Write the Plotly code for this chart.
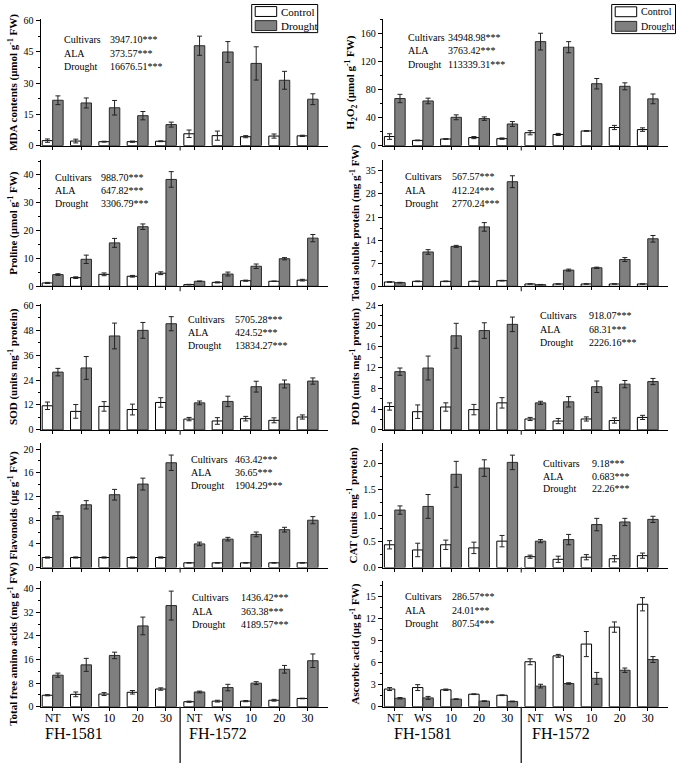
import plotly.graph_objects as go

W, H = 677, 769
FONT = "Liberation Serif, Times New Roman, serif"

# ---------------- data ----------------
groups = ["NT", "WS", "10", "20", "30", "NT", "WS", "10", "20", "30"]
cultivars = ["FH-1581", "FH-1572"]
series = ["Control", "Drought"]
series_fill = ["white", "#7f7f7f"]
series_line = ["black", "#2b2b2b"]

mda_ctrl = [2.4, 2.2, 1.9, 1.9, 2.1, 5.7, 4.8, 4.3, 4.6, 4.7]
mda_ctrl_err = [0.8, 0.9, 0.2, 0.3, 0.2, 1.8, 2.2, 0.5, 1.0, 0.3]
mda_drt = [21.8, 20.5, 18.2, 14.4, 10.1, 48.0, 45.0, 39.5, 31.4, 22.3]
mda_drt_err = [2.1, 2.4, 3.5, 2.0, 1.2, 4.6, 5.0, 8.0, 4.3, 2.6]

h2o2_ctrl = [13.0, 7.5, 9.5, 11.5, 10.0, 18.5, 16.0, 21.0, 26.0, 23.0]
h2o2_ctrl_err = [4.0, 0.5, 0.5, 1.5, 1.0, 3.0, 1.5, 0.5, 3.0, 2.5]
h2o2_drt = [67.5, 64.0, 40.6, 38.7, 31.0, 149.0, 141.0, 88.7, 85.0, 67.0]
h2o2_drt_err = [6.0, 4.0, 3.5, 2.5, 3.5, 12.0, 8.0, 7.5, 5.0, 7.0]

pro_ctrl = [1.2, 3.1, 4.3, 3.6, 4.7, 0.6, 1.4, 2.0, 1.8, 2.2]
pro_ctrl_err = [0.2, 0.3, 0.5, 0.3, 0.5, 0.1, 0.2, 0.2, 0.1, 0.3]
pro_drt = [4.2, 9.7, 15.6, 21.4, 38.4, 1.8, 4.4, 7.2, 9.9, 17.3]
pro_drt_err = [0.3, 1.5, 1.6, 1.0, 2.8, 0.1, 0.7, 0.8, 0.4, 1.3]

tsp_ctrl = [1.3, 1.5, 1.5, 1.5, 1.7, 0.7, 0.7, 0.7, 0.7, 0.7]
tsp_ctrl_err = [0.1, 0.1, 0.1, 0.1, 0.1, 0.05, 0.05, 0.05, 0.05, 0.05]
tsp_drt = [1.1, 10.4, 12.1, 18.0, 31.7, 0.5, 4.9, 5.6, 8.1, 14.4]
tsp_drt_err = [0.1, 0.7, 0.3, 1.3, 1.8, 0.05, 0.3, 0.2, 0.6, 1.0]

sod_ctrl = [11.6, 8.9, 11.3, 9.8, 13.2, 5.2, 4.3, 5.4, 4.6, 6.2]
sod_ctrl_err = [1.8, 3.3, 2.3, 2.6, 2.3, 0.8, 1.6, 1.1, 1.2, 1.0]
sod_drt = [27.8, 29.8, 45.2, 47.9, 51.1, 13.0, 13.7, 20.8, 22.1, 23.5]
sod_drt_err = [1.8, 5.5, 6.2, 3.8, 3.4, 0.9, 2.5, 2.6, 1.9, 1.5]

pod_ctrl = [4.5, 3.5, 4.4, 3.9, 5.2, 2.1, 1.7, 2.1, 1.8, 2.4]
pod_ctrl_err = [0.7, 1.3, 0.8, 1.0, 1.0, 0.3, 0.5, 0.4, 0.5, 0.4]
pod_drt = [11.2, 11.9, 18.1, 19.1, 20.3, 5.2, 5.4, 8.3, 8.8, 9.3]
pod_drt_err = [0.7, 2.3, 2.4, 1.5, 1.4, 0.3, 1.0, 1.1, 0.7, 0.6]

flv_ctrl = [1.7, 1.7, 1.7, 1.7, 1.7, 0.8, 0.8, 0.8, 0.8, 0.8]
flv_ctrl_err = [0.1, 0.1, 0.1, 0.1, 0.1, 0.05, 0.05, 0.05, 0.05, 0.05]
flv_drt = [8.8, 10.6, 12.3, 14.1, 17.7, 4.0, 4.8, 5.6, 6.4, 8.0]
flv_drt_err = [0.6, 0.7, 0.9, 1.0, 1.3, 0.3, 0.3, 0.4, 0.4, 0.6]

cat_ctrl = [0.44, 0.34, 0.44, 0.38, 0.51, 0.21, 0.16, 0.20, 0.17, 0.23]
cat_ctrl_err = [0.08, 0.13, 0.09, 0.11, 0.11, 0.03, 0.06, 0.05, 0.06, 0.05]
cat_drt = [1.11, 1.18, 1.80, 1.92, 2.03, 0.51, 0.54, 0.83, 0.88, 0.93]
cat_drt_err = [0.08, 0.23, 0.25, 0.16, 0.14, 0.03, 0.10, 0.12, 0.07, 0.06]

tfa_ctrl = [3.9, 4.2, 4.3, 4.9, 6.0, 1.7, 1.9, 1.9, 2.2, 2.8]
tfa_ctrl_err = [0.2, 0.8, 0.5, 0.6, 0.4, 0.2, 0.3, 0.2, 0.3, 0.1]
tfa_drt = [10.7, 14.2, 17.4, 27.4, 34.3, 5.0, 6.5, 8.0, 12.7, 15.6]
tfa_drt_err = [0.7, 2.2, 1.1, 3.0, 4.9, 0.3, 1.1, 0.5, 1.3, 2.3]

asa_ctrl = [2.4, 2.6, 2.3, 1.7, 1.56, 6.1, 6.9, 8.5, 10.8, 13.9]
asa_ctrl_err = [0.2, 0.4, 0.1, 0.05, 0.05, 0.4, 0.2, 1.7, 0.7, 0.9]
asa_drt = [1.15, 1.2, 1.03, 0.76, 0.72, 2.8, 3.15, 3.85, 4.95, 6.4]
asa_drt_err = [0.1, 0.2, 0.05, 0.05, 0.05, 0.25, 0.1, 0.8, 0.3, 0.4]

stat_labels = ["Cultivars", "ALA", "Drought"]
mda_stats = ["3947.10***", "373.57***", "16676.51***"]
h2o2_stats = ["34948.98***", "3763.42***", "113339.31***"]
pro_stats = ["988.70***", "647.82***", "3306.79***"]
tsp_stats = ["567.57***", "412.24***", "2770.24***"]
sod_stats = ["5705.28***", "424.52***", "13834.27***"]
pod_stats = ["918.07***", "68.31***", "2226.16***"]
flv_stats = ["463.42***", "36.65***", "1904.29***"]
cat_stats = ["9.18***", "0.683***", "22.26***"]
tfa_stats = ["1436.42***", "363.38***", "4189.57***"]
asa_stats = ["286.57***", "24.01***", "807.54***"]

titles = [
    "MDA contents (μmol g<sup>-1</sup> FW)",
    "H<sub>2</sub>O<sub>2</sub> (μmol g<sup>-1</sup> FW)",
    "Proline (μmol g<sup>-1</sup> FW)",
    "Total soluble protein (mg g<sup>-1</sup> FW)",
    "SOD (units mg<sup>-1</sup> protein)",
    "POD (units mg<sup>-1</sup> protein)",
    "Flavonoids (μg g<sup>-1</sup> FW)",
    "CAT (units mg<sup>-1</sup> protein)",
    "Total free amino acids (mg g<sup>-1</sup> FW)",
    "Ascorbic acid (μg g<sup>-1</sup> FW)",
]

# ---------------- layout geometry (pixels) ----------------
col_x = [(40.5, 328.0), (382.7, 668.0)]
row_y = [(15.5, 143.5), (158.0, 286.0), (303.5, 431.5), (445.0, 571.0), (585.0, 712.0)]
# cultivar label centres (in category units) for left / right columns
cult_label_x = [[0.77, 5.82], [1.0, 5.9]]
# legend boxes: (left, right, top, bottom, font size) pixels
legend_boxes = [(251.7, 317.7, 0.5, 29.0, 11), (611.7, 675.5, 0.5, 30.0, 10)]

panels = [
    dict(c=mda_ctrl, ce=mda_ctrl_err, d=mda_drt, de=mda_drt_err, stats=mda_stats,
         ymax=60.7, dtick=15, fmt="", lab=(62, 108.3, [36, 50, 63])),
    dict(c=h2o2_ctrl, ce=h2o2_ctrl_err, d=h2o2_drt, de=h2o2_drt_err, stats=h2o2_stats,
         ymax=181, dtick=40, fmt="", lab=(405.7, 446, [33.7, 47.3, 61])),
    dict(c=pro_ctrl, ce=pro_ctrl_err, d=pro_drt, de=pro_drt_err, stats=pro_stats,
         ymax=45.4, dtick=10, fmt="", lab=(53.3, 99.3, [176, 189, 202.3])),
    dict(c=tsp_ctrl, ce=tsp_ctrl_err, d=tsp_drt, de=tsp_drt_err, stats=tsp_stats,
         ymax=38.3, dtick=7, fmt="", lab=(403.3, 450, [175, 188.7, 201.7])),
    dict(c=sod_ctrl, ce=sod_ctrl_err, d=sod_drt, de=sod_drt_err, stats=sod_stats,
         ymax=60.8, dtick=12, fmt="", lab=(186, 232.7, [319.3, 332.7, 346])),
    dict(c=pod_ctrl, ce=pod_ctrl_err, d=pod_drt, de=pod_drt_err, stats=pod_stats,
         ymax=24.3, dtick=4, fmt="", lab=(538.3, 586.7, [315.7, 329.3, 343.3])),
    dict(c=flv_ctrl, ce=flv_ctrl_err, d=flv_drt, de=flv_drt_err, stats=flv_stats,
         ymax=21, dtick=4, fmt="", lab=(188.7, 233.3, [461, 474.3, 488.3])),
    dict(c=cat_ctrl, ce=cat_ctrl_err, d=cat_drt, de=cat_drt_err, stats=cat_stats,
         ymax=2.4, dtick=0.5, fmt=".1f", lab=(541.3, 590, [466, 478.3, 491])),
    dict(c=tfa_ctrl, ce=tfa_ctrl_err, d=tfa_drt, de=tfa_drt_err, stats=tfa_stats,
         ymax=42.5, dtick=8, fmt="", lab=(190, 239.3, [601.7, 615, 629])),
    dict(c=asa_ctrl, ce=asa_ctrl_err, d=asa_drt, de=asa_drt_err, stats=asa_stats,
         ymax=17.0, dtick=3, fmt="", lab=(403.3, 450, [600.7, 614, 627.7])),
]


def px(x):
    return x / W


def py(y):
    return 1 - y / H


xs = list(range(len(groups)))
n_per = len(groups) // len(cultivars)
sep = n_per - 0.5

fig = go.Figure()
annotations = []
shapes = []
layout = {}

for i, p in enumerate(panels):
    r, c = divmod(i, 2)
    k = "" if i == 0 else str(i + 1)
    xa, ya = "x" + k, "y" + k
    for s, (vals, errs) in enumerate([(p["c"], p["ce"]), (p["d"], p["de"])]):
        fig.add_trace(go.Bar(
            x=xs, y=vals, name=series[s], xaxis=xa, yaxis=ya,
            marker=dict(color=series_fill[s], line=dict(color=series_line[s], width=1)),
            error_y=dict(type="data", array=errs, color="#222", thickness=1, width=2.5),
            showlegend=False,
        ))
    x0, x1 = col_x[c]
    ytop, ybot = row_y[r]
    bottom = r == len(row_y) - 1
    layout["xaxis" + k] = dict(
        domain=[px(x0), px(x1)], anchor=ya, range=[-0.43, 9.72],
        showline=True, linecolor="black", linewidth=1, showgrid=False, zeroline=False,
        tickmode="array", tickvals=xs, ticktext=groups, showticklabels=bottom,
        ticks="outside", ticklen=3, tickcolor="black", ticklabelstandoff=-3,
        tickfont=dict(family=FONT, size=12, color="black"),
    )
    layout["yaxis" + k] = dict(
        domain=[py(ybot), py(ytop)], anchor=xa, range=[0, p["ymax"]],
        showline=True, linecolor="black", linewidth=1, showgrid=False, zeroline=False,
        dtick=p["dtick"], tick0=0, tickformat=p["fmt"],
        ticks="outside", ticklen=4, tickcolor="black",
        minor=dict(dtick=p["dtick"] / 2, ticks="outside", ticklen=2, tickcolor="black"),
        tickfont=dict(family=FONT, size=10, color="black"),
        title=dict(text="<b>" + titles[i] + "</b>", standoff=3,
                   font=dict(family=FONT, size=11, color="black")),
    )
    lx, vx, ys = p["lab"]
    for j, (lab, val) in enumerate(zip(stat_labels, p["stats"])):
        annotations.append(dict(x=px(lx), y=py(ys[j]), xref="paper", yref="paper",
                                text=lab, showarrow=False, xanchor="left", yanchor="middle",
                                font=dict(family=FONT, size=10, color="black")))
        annotations.append(dict(x=px(vx), y=py(ys[j]), xref="paper", yref="paper",
                                text=val, showarrow=False, xanchor="left", yanchor="middle",
                                font=dict(family=FONT, size=10, color="black")))
    # separator between cultivars
    if bottom:
        shapes.append(dict(type="line", xref=xa, yref="paper", x0=sep, x1=sep,
                           y0=py(ybot), y1=0, line=dict(color="#333", width=1.5)))
        for cv, mx in zip(cultivars, cult_label_x[c]):
            annotations.append(dict(x=mx, y=py(ybot + 27), xref=xa, yref="paper", text=cv,
                                    showarrow=False, xanchor="center", yanchor="middle",
                                    font=dict(family=FONT, size=16, color="black")))
    else:
        shapes.append(dict(type="line", xref=xa, yref="paper", x0=sep, x1=sep,
                           y0=py(ybot), y1=py(ybot + 5), line=dict(color="#333", width=1.2)))

# manual legends (one per column)
for (bl, br, bt, bb, fs) in legend_boxes:
    shapes.append(dict(type="rect", xref="paper", yref="paper",
                       x0=px(bl), x1=px(br), y0=py(bb), y1=py(bt),
                       line=dict(color="black", width=1), fillcolor="white", layer="above"))
    step = (bb - bt) / len(series)
    for s, name in enumerate(series):
        cy = bt + step * (s + 0.5)
        shapes.append(dict(type="rect", xref="paper", yref="paper",
                           x0=px(bl + 3.5), x1=px(bl + 25), y0=py(cy + 5), y1=py(cy - 5),
                           line=dict(color=series_line[s], width=1), fillcolor=series_fill[s],
                           layer="above"))
        annotations.append(dict(x=px(bl + 27.5), y=py(cy), xref="paper", yref="paper",
                                text=name, showarrow=False, xanchor="left", yanchor="middle",
                                font=dict(family=FONT, size=fs, color="black")))

fig.update_layout(
    width=W, height=H, margin=dict(l=0, r=0, t=0, b=0),
    paper_bgcolor="white", plot_bgcolor="white",
    barmode="group", bargap=0.26, bargroupgap=0.0, showlegend=False,
    annotations=annotations, shapes=shapes,
    font=dict(family=FONT, color="black"),
    **layout,
)

fig.write_html("out.html", config={"displayModeBar": False},
               post_script="document.body.style.margin='0';")
